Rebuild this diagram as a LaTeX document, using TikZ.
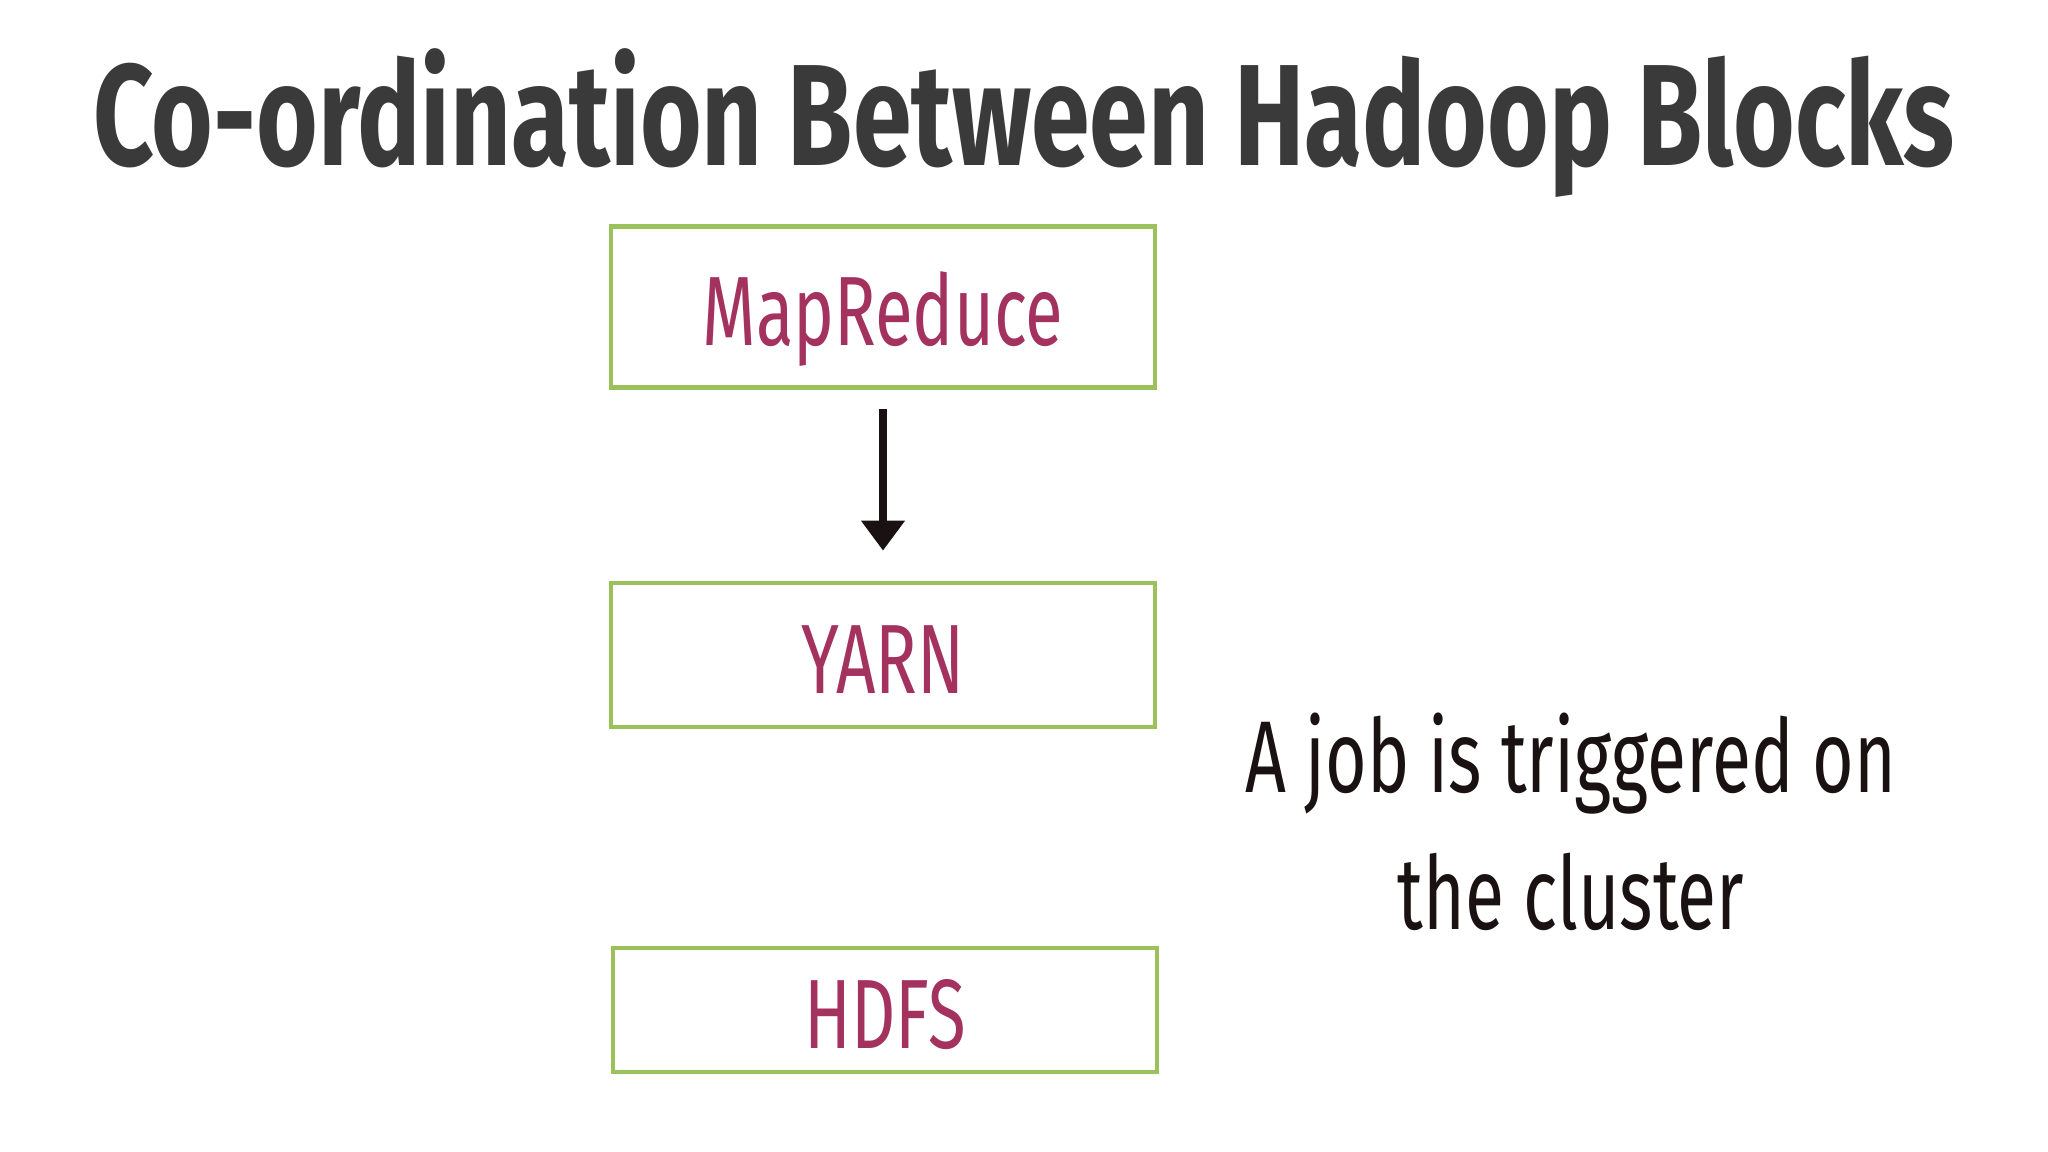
\documentclass[tikz,border=0pt]{standalone}
\usepackage{fontspec}
\setmainfont{Fira Sans}[FakeStretch=0.7]
\newfontfamily\titlefont{Fira Sans}[FakeStretch=0.733]
\usepackage{tikz}
\usetikzlibrary{positioning}
\usetikzlibrary{arrows.meta}
\definecolor{boxgreen}{HTML}{9BC25A}
\definecolor{blockred}{HTML}{A3325F}
\definecolor{titlegray}{HTML}{3A3A3A}
\definecolor{inkblack}{HTML}{1A1212}
\tikzset{
  block/.style={draw=boxgreen, line width=1.3pt, text=blockred, minimum width=5.44cm, text height=0.76cm, text depth=0pt, font=\fontsize{28}{30}\selectfont},
  flow/.style={-{Triangle[length=0.3cm,width=0.42cm]}, line width=2.2pt, inkblack},
}
\begin{document}
\begin{tikzpicture}[x=0.01cm, y=-0.01cm]
    \useasboundingbox (0,0) rectangle (2048,1152);

    % Define nodes
    \node[anchor=base, text=titlegray, font=\titlefont\bfseries\fontsize{41}{44}\selectfont] (title) at (1024,166) {Co-ordination Between Hadoop Blocks};
    \node[block, minimum height=1.61cm] (mr)   at (883,307)  {MapReduce};
    \node[block, minimum height=1.44cm] (yarn) at (883,655)  {YARN};
    \node[block, minimum height=1.24cm] (hdfs) at (885,1010) {HDFS};
    \node[align=center, text=inkblack, font=\fontsize{29}{39}\selectfont] (job) at (1571,822) {A job is triggered on\\the cluster};

    % Connect the nodes
    \draw[flow, shorten <=0.19cm, shorten >=0.3cm] (mr) -- (yarn); %
  \end{tikzpicture}
\end{document}
